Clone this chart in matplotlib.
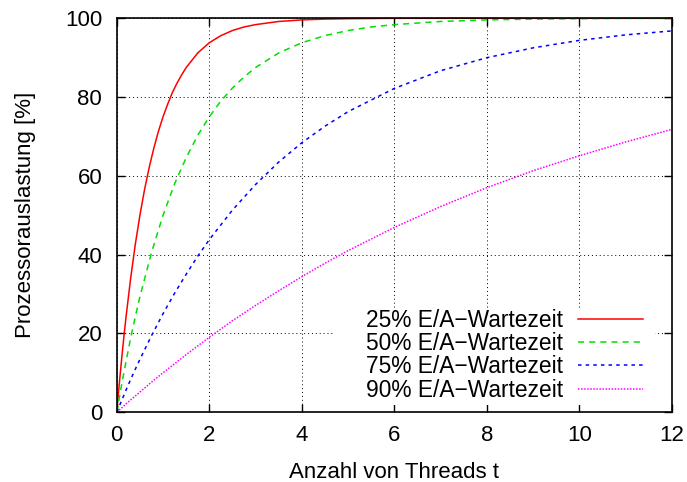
import matplotlib
matplotlib.use("Agg")
import matplotlib.pyplot as plt
from matplotlib.patches import Rectangle

plt.rcParams['font.family'] = ['Liberation Sans', 'DejaVu Sans']

# Anzahl von Threads t (finer steps where the curve bends fast)
t_25 = [0, 0.05, 0.1, 0.15, 0.2, 0.3, 0.4, 0.5, 0.6, 0.7, 0.8, 0.9, 1.0, 1.1,
        1.2, 1.3, 1.4, 1.5, 1.75, 2, 2.25, 2.5, 2.75, 3, 3.5, 4, 4.5, 5, 6, 8, 12]
t_50 = [0, 0.1, 0.2, 0.3, 0.4, 0.5, 0.75, 1, 1.25, 1.5, 1.75, 2, 2.25, 2.5,
        2.75, 3, 3.5, 4, 4.5, 5, 5.5, 6, 7, 8, 9, 10, 11, 12]
t_slow = [0, 0.1, 0.2, 0.3, 0.4, 0.5, 0.75, 1, 1.25, 1.5, 1.75, 2, 2.5, 3, 3.5,
          4, 4.5, 5, 6, 7, 8, 9, 10, 11, 12]

# Prozessorauslastung [%]
wait25 = [0, 6.7, 12.9, 18.8, 24.2, 34.0, 42.6, 50.0, 56.5, 62.1, 67.0, 71.3,
          75.0, 78.2, 81.1, 83.5, 85.6, 87.5, 91.2, 93.8, 95.6, 96.9, 97.8,
          98.4, 99.2, 99.6, 99.8, 99.9, 100, 100, 100]
wait50 = [0, 6.7, 12.9, 18.8, 24.2, 29.3, 40.5, 50.0, 58.0, 64.6, 70.3, 75.0,
          79.0, 82.3, 85.1, 87.5, 91.2, 93.8, 95.6, 96.9, 97.8, 98.4, 99.2,
          99.6, 99.8, 99.9, 100, 100]
wait75 = [0, 2.8, 5.6, 8.3, 10.9, 13.4, 19.4, 25.0, 30.2, 35.0, 39.6, 43.8,
          51.3, 57.8, 63.5, 68.4, 72.6, 76.3, 82.2, 86.7, 90.0, 92.5, 94.4, 95.8, 96.8]
wait90 = [0, 1.0, 2.1, 3.1, 4.1, 5.1, 7.6, 10.0, 12.3, 14.6, 16.8, 19.0,
          23.2, 27.1, 30.8, 34.4, 37.8, 41.0, 46.9, 52.2, 57.0, 61.3, 65.1, 68.6, 71.8]

labels = ["25% E/A\u2212Wartezeit", "50% E/A\u2212Wartezeit",
          "75% E/A\u2212Wartezeit", "90% E/A\u2212Wartezeit"]

fig = plt.figure(figsize=(6.87, 4.82), dpi=100)
ax = fig.add_axes([0.170, 0.145, 0.808, 0.817])

ax.plot(t_25, wait25, color="red", lw=1.1, ls="-", label=labels[0])
ax.plot(t_50, wait50, color="#00e000", lw=1.1, ls=(0, (4, 3.3)), label=labels[1])
ax.plot(t_slow, wait75, color="blue", lw=1.1, ls=(0, (2.3, 2.7)), label=labels[2])
ax.plot(t_slow, wait90, color="magenta", lw=1.1, ls=(0, (1, 1)), label=labels[3])

ax.set_xlim(0, 12)
ax.set_ylim(0, 100)
ax.set_xticks(range(0, 13, 2))
ax.set_yticks(range(0, 101, 20))
ax.tick_params(direction="in", length=6, width=1, top=True, right=True,
               labelsize=16)
ax.tick_params(axis="x", pad=9.5)
ax.tick_params(axis="y", pad=10.5)
ax.grid(True, color="black", lw=0.7, ls=(0, (1, 3)))
for s in ax.spines.values():
    s.set_linewidth(1.2)

ax.set_xlabel("Anzahl von Threads t", fontsize=16, labelpad=11)
ax.set_ylabel("Prozessorauslastung [%]", fontsize=16, labelpad=21)

# white key box hiding the grid behind the legend (ticks stay visible)
ax.add_patch(Rectangle((0.393, 0.018), 0.576, 0.241, transform=ax.transAxes,
                       facecolor="white", edgecolor="none", zorder=1.8))

leg = ax.legend(loc="lower right", bbox_to_anchor=(0.948, 0.026), fontsize=16.4,
                markerfirst=False, handlelength=2.85, handletextpad=0.66,
                labelspacing=0.02, frameon=False, borderpad=0,
                borderaxespad=0)

fig.savefig("out.png", dpi=100)
